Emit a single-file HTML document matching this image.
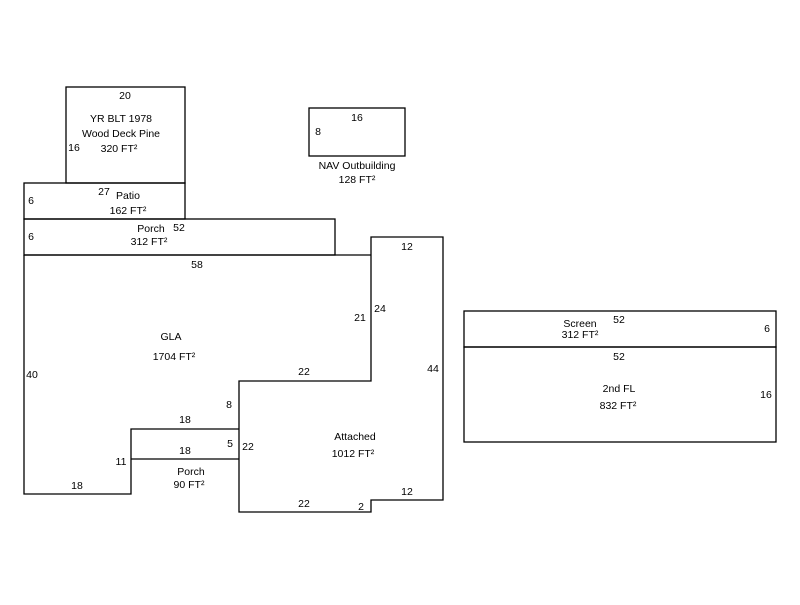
<!DOCTYPE html>
<html><head><style>
body{margin:0;background:#fff;width:800px;height:600px;overflow:hidden}
svg text{font-family:"Liberation Sans",Arial,sans-serif;font-size:10.5px;fill:#000}
</style></head><body>
<svg width="800" height="600" xmlns="http://www.w3.org/2000/svg">
<g fill="none" stroke="#000" stroke-width="1.3">
<rect x="66" y="87" width="119" height="96"/>
<rect x="24" y="183" width="161" height="36"/>
<rect x="24" y="219" width="311" height="36"/>
<rect x="309" y="108" width="96" height="48"/>
<polyline points="24,255 371,255 371,381 239,381 239,512 371,512 371,500 443,500 443,237 371,237 371,255"/>
<polyline points="24,255 24,494 131,494 131,429 239,429"/>
<polyline points="131,459 239,459"/>
<rect x="464" y="311" width="312" height="36"/>
<rect x="464" y="347" width="312" height="95"/>
</g>
<g text-anchor="middle">
<text x="125" y="99">20</text>
<text x="121" y="122">YR BLT 1978</text>
<text x="121" y="137">Wood Deck Pine</text>
<text x="119" y="152">320 FT²</text>
<text x="74" y="151">16</text>
<text x="104" y="195">27</text>
<text x="128" y="199">Patio</text>
<text x="128" y="214">162 FT²</text>
<text x="31" y="204">6</text>
<text x="151" y="232">Porch</text>
<text x="179" y="231">52</text>
<text x="149" y="245">312 FT²</text>
<text x="31" y="240">6</text>
<text x="357" y="121">16</text>
<text x="318" y="135">8</text>
<text x="357" y="169">NAV Outbuilding</text>
<text x="357" y="183">128 FT²</text>
<text x="197" y="268">58</text>
<text x="171" y="340">GLA</text>
<text x="174" y="360">1704 FT²</text>
<text x="32" y="378">40</text>
<text x="360" y="321">21</text>
<text x="380" y="312">24</text>
<text x="407" y="250">12</text>
<text x="433" y="372">44</text>
<text x="304" y="375">22</text>
<text x="229" y="408">8</text>
<text x="185" y="423">18</text>
<text x="185" y="454">18</text>
<text x="230" y="447">5</text>
<text x="248" y="450">22</text>
<text x="121" y="465">11</text>
<text x="191" y="475">Porch</text>
<text x="189" y="488">90 FT²</text>
<text x="77" y="489">18</text>
<text x="355" y="440">Attached</text>
<text x="353" y="457">1012 FT²</text>
<text x="304" y="507">22</text>
<text x="361" y="510">2</text>
<text x="407" y="495">12</text>
<text x="580" y="327">Screen</text>
<text x="619" y="323">52</text>
<text x="580" y="338">312 FT²</text>
<text x="767" y="332">6</text>
<text x="619" y="360">52</text>
<text x="619" y="392">2nd FL</text>
<text x="618" y="409">832 FT²</text>
<text x="766" y="398">16</text>
</g>
</svg>
</body></html>
